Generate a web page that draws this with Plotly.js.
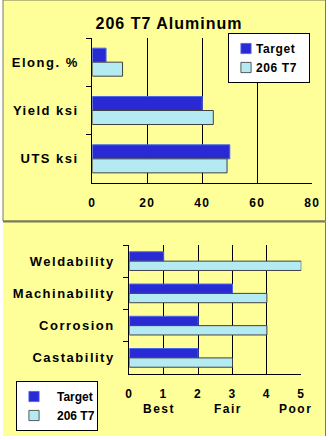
<!DOCTYPE html>
<html>
<head>
<meta charset="utf-8">
<script src="https://cdn.plot.ly/plotly-3.0.1.min.js"></script>
<style>
  html, body { margin: 0; padding: 0; background: #ffffff; }
  #chart { width: 329px; height: 440px; }
  .main-svg .xtick text, .main-svg .ytick text,
  .main-svg .x2tick text, .main-svg .y2tick text { letter-spacing: 1.5px; }
  .main-svg .gtitle { letter-spacing: 1px; }
  .main-svg .annotation-text { letter-spacing: 1.5px; }
  .main-svg .legendtext { letter-spacing: 0.6px; transform: translateX(-13px); }
  .main-svg .legendpoints path { transform: translate(17px, 0px) scale(0.85); }
  .main-svg .legend rect.bg, .main-svg .legend2 rect.bg { width: 81px; }
</style>
</head>
<body>
<div id="chart"></div>
<script>
// ---- data ----
const chartTitle = "206 T7 Aluminum";
const seriesNames = ["Target", "206 T7"];

const propertyCategories = ["Elong. %", "Yield ksi", "UTS ksi"];
const propertyTarget = [5, 40, 50];
const property206T7 = [11, 44, 49];
const propertyTicks = [0, 20, 40, 60, 80];

const ratingCategories = ["Weldability", "Machinability", "Corrosion", "Castability"];
const ratingTarget = [1, 3, 2, 2];
const rating206T7 = [5, 4, 4, 3];
const ratingTicks = [0, 1, 2, 3, 4, 5];
const ratingWords = ["Best", "Fair", "Poor"];
const ratingWordValues = [1, 3, 5];

// ---- styling ----
const W = 329, H = 440;
const FONT = "Liberation Sans, Arial, sans-serif";
const YELLOW = "#FFFF99";
const BORDER = "#7A7A5A";
const TARGET_COLOR = "#2A2AD4";
const T7_COLOR = "#B4EAF2";
const px = v => v / W;
const py = v => 1 - v / H;

const targetStyle = { color: TARGET_COLOR, line: { color: "#4A66EE", width: 1 } };
const t7Style = { color: T7_COLOR, line: { color: "#404040", width: 1 } };

const traces = [
  { type: "bar", orientation: "h", name: seriesNames[0], y: propertyCategories, x: propertyTarget,
    xaxis: "x", yaxis: "y", marker: targetStyle, legend: "legend", legendgroup: "a1" },
  { type: "bar", orientation: "h", name: seriesNames[1], y: propertyCategories, x: property206T7,
    xaxis: "x", yaxis: "y", marker: t7Style, legend: "legend", legendgroup: "a2" },
  { type: "bar", orientation: "h", name: seriesNames[0], y: ratingCategories, x: ratingTarget,
    xaxis: "x2", yaxis: "y2", marker: targetStyle, legend: "legend2" },
  { type: "bar", orientation: "h", name: seriesNames[1], y: ratingCategories, x: rating206T7,
    xaxis: "x2", yaxis: "y2", marker: t7Style, legend: "legend2" }
];

const tickFont = { family: FONT, size: 12, color: "#000", weight: "bold" };
const catFont = { family: FONT, size: 13, color: "#000", weight: "bold" };
const legendFont = { family: FONT, size: 12, color: "#000", weight: "bold" };

const commonX = {
  showgrid: true, gridcolor: "#000", gridwidth: 1, zeroline: false,
  showline: true, linecolor: "#000", linewidth: 1, ticks: "",
  tickfont: tickFont, ticklabelstandoff: 9, fixedrange: true
};
const commonY = {
  type: "category", autorange: "reversed", showgrid: false, zeroline: false,
  showline: true, linecolor: "#000", linewidth: 1,
  ticks: "outside", ticklen: 5, tickcolor: "#000", tickson: "boundaries",
  tickfont: catFont, fixedrange: true
};

const annotations = ratingWords.map((w, i) => ({
  text: w, xref: "x2", x: ratingWordValues[i], yref: "paper", y: py(409),
  xanchor: "center", yanchor: "middle", showarrow: false, xshift: -5,
  font: tickFont
}));

const layout = {
  width: W, height: H,
  margin: { l: 0, r: 0, t: 0, b: 0 },
  paper_bgcolor: "#ffffff",
  plot_bgcolor: "rgba(0,0,0,0)",
  barmode: "group",
  bargap: 0.42,
  bargroupgap: 0,
  title: { text: chartTitle, x: px(169), xanchor: "center", xref: "paper",
           y: py(23), yanchor: "middle", yref: "paper",
           font: { family: FONT, size: 16, color: "#000", weight: "bold" } },
  xaxis: Object.assign({}, commonX, { domain: [px(92.3), px(312.3)], range: [0, 80],
           tickvals: propertyTicks, anchor: "y" }),
  yaxis: Object.assign({}, commonY, { domain: [py(183), py(38)], anchor: "x",
           ticklabelstandoff: 10 }),
  xaxis2: Object.assign({}, commonX, { domain: [px(129.3), px(301.3)], range: [0, 5],
           tickvals: ratingTicks, anchor: "y2" }),
  yaxis2: Object.assign({}, commonY, { domain: [py(374), py(245)], anchor: "x2",
           ticklabelstandoff: 11 }),
  legend: { x: px(228), y: py(33), xanchor: "left", yanchor: "top",
            bgcolor: "#ffffff", bordercolor: "#000", borderwidth: 1,
            font: legendFont, traceorder: "normal", itemwidth: 30, tracegroupgap: 2 },
  legend2: { x: px(16), y: py(381), xanchor: "left", yanchor: "top",
            bgcolor: "#ffffff", bordercolor: "#000", borderwidth: 1,
            font: legendFont, traceorder: "normal", itemwidth: 30 },
  annotations: annotations,
  shapes: [
    { type: "rect", xref: "paper", yref: "paper", layer: "below",
      x0: px(3), x1: px(325.5), y0: py(221), y1: py(0),
      fillcolor: YELLOW, line: { color: BORDER, width: 1 } },
    { type: "rect", xref: "paper", yref: "paper", layer: "below",
      x0: px(3), x1: px(325.5), y0: py(436), y1: py(222),
      fillcolor: YELLOW, line: { width: 0 } },
    { type: "line", xref: "paper", yref: "paper", layer: "below",
      x0: px(3), x1: px(325.5), y0: py(221.5), y1: py(221.5),
      line: { color: BORDER, width: 2 } },
    { type: "line", xref: "paper", yref: "paper", layer: "below",
      x0: px(325.5), x1: px(325.5), y0: py(436), y1: py(222),
      line: { color: BORDER, width: 1 } }
  ],
  showlegend: true
};

Plotly.newPlot("chart", traces, layout, { displayModeBar: false, staticPlot: true });
</script>
</body>
</html>
